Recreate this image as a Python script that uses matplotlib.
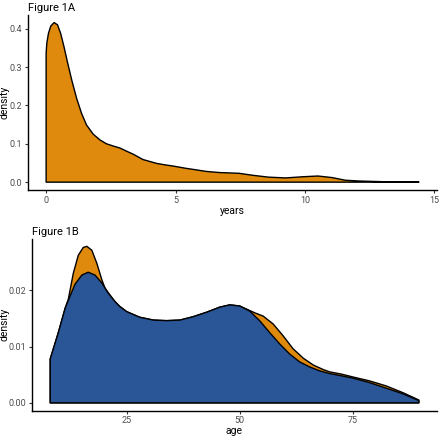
import matplotlib
matplotlib.use("Agg")
import matplotlib.pyplot as plt

plt.rcParams['font.family'] = ['Roboto', 'DejaVu Sans']

# Figure 1A: density of years
years_x = [0.0, 0.026, 0.09, 0.18, 0.31, 0.44, 0.56, 0.69, 0.82, 0.99, 1.18, 1.37, 1.56, 1.82, 2.08,
           2.33, 2.6, 2.85, 3.1, 3.36, 3.55, 3.74, 4.0, 4.26, 4.6, 4.9, 5.41, 5.8, 6.18, 6.7, 7.1,
           7.46, 7.97, 8.6, 9.26, 9.9, 10.5, 11.04, 11.56, 12.08, 13.1, 14.4]
years_d = [0.336, 0.362, 0.388, 0.407, 0.416, 0.410, 0.388, 0.353, 0.314, 0.266, 0.218, 0.179, 0.149,
           0.125, 0.110, 0.100, 0.094, 0.089, 0.081, 0.073, 0.066, 0.059, 0.054, 0.049, 0.045, 0.042,
           0.036, 0.032, 0.028, 0.025, 0.024, 0.023, 0.018, 0.013, 0.011, 0.014, 0.016, 0.012, 0.005,
           0.003, 0.001, 0.001]
years_xticks = [0, 5, 10, 15]
years_yticks = [0.0, 0.1, 0.2, 0.3, 0.4]
years_ylabels = ['0.0', '0.1', '0.2', '0.3', '0.4']

# Figure 1B: density of age, two groups
age_blue_x = [8.1, 9.9, 11.4, 12.5, 13.6, 15.1, 16.5, 18.0, 19.5, 20.9, 22.4, 23.5, 25.0, 27.9, 30.9,
              33.8, 36.8, 39.7, 42.7, 45.6, 47.8, 50.0, 52.2, 54.4, 56.6, 58.8, 61.0, 63.2, 65.4,
              67.6, 69.9, 72.5, 75.0, 78.7, 82.4, 86.1, 89.6]
age_blue_d = [0.0078, 0.0125, 0.0168, 0.0190, 0.0211, 0.0227, 0.0232, 0.0227, 0.0213, 0.0195, 0.0180,
              0.0171, 0.0162, 0.0152, 0.0147, 0.0146, 0.0147, 0.0153, 0.0161, 0.0170, 0.0174, 0.0172,
              0.0163, 0.0146, 0.0125, 0.0105, 0.0087, 0.0073, 0.0064, 0.0057, 0.0052, 0.0048, 0.0044,
              0.0036, 0.0026, 0.0016, 0.0004]
age_orange_x = [8.1, 9.9, 11.4, 12.1, 13.2, 14.3, 15.4, 16.2, 17.3, 18.4, 19.5, 20.2, 20.9, 22.4, 23.5,
                25.0, 27.9, 30.9, 33.8, 36.8, 39.7, 42.7, 45.6, 47.8, 50.0, 52.2, 53.3, 55.2, 57.4,
                59.6, 61.8, 64.1, 66.3, 68.5, 69.9, 72.5, 75.0, 78.7, 82.4, 86.1, 89.6]
age_orange_d = [0.0078, 0.0125, 0.0168, 0.0184, 0.0230, 0.0262, 0.0276, 0.0278, 0.0271, 0.0248, 0.0219,
                0.0204, 0.0196, 0.0180, 0.0171, 0.0162, 0.0152, 0.0147, 0.0146, 0.0147, 0.0153, 0.0161,
                0.0170, 0.0174, 0.0172, 0.0164, 0.0160, 0.0154, 0.0140, 0.0119, 0.0096, 0.0079, 0.0067,
                0.0059, 0.0055, 0.0051, 0.0046, 0.0039, 0.0030, 0.0018, 0.0005]
age_xticks = [25, 50, 75]
age_yticks = [0.00, 0.01, 0.02]
age_ylabels = ['0.00', '0.01', '0.02']

ORANGE = '#DF8A0D'
BLUE = '#2A5698'
TICKC = '#4D4D4D'

fig = plt.figure(figsize=(4.4, 4.38), dpi=100)
ax1 = fig.add_axes([0.0625, 0.566, 0.9305, 0.400])
ax2 = fig.add_axes([0.072, 0.0624, 0.921, 0.3919])


def density_area(ax, xs, ds, color):
    # closed density outline: down to baseline at both ends, like geom_density
    px = [xs[0]] + list(xs) + [xs[-1]]
    py = [0.0] + list(ds) + [0.0]
    ax.fill(px, py, facecolor=color, edgecolor='black', linewidth=1.0, joinstyle='round')


def style(ax):
    for s in ['top', 'right']:
        ax.spines[s].set_visible(False)
    for s in ['left', 'bottom']:
        ax.spines[s].set_linewidth(1.0)
        ax.spines[s].set_color('black')
    ax.tick_params(axis='both', length=2.5, width=0.8, color='#333333', labelcolor=TICKC,
                   labelsize=6.5, pad=1.5)


density_area(ax1, years_x, years_d, ORANGE)
ax1.set_xlim(-0.72, 15.1)
ax1.set_ylim(-0.0207, 0.436)
ax1.set_xticks(years_xticks)
ax1.set_yticks(years_yticks)
ax1.set_xticklabels([str(v) for v in years_xticks])
ax1.set_yticklabels(years_ylabels)
style(ax1)
ax1.set_xlabel('years', fontsize=7.5, labelpad=1)
ax1.set_ylabel('density', fontsize=7.5)
ax1.yaxis.set_label_coords(-0.043, 0.5)
ax1.set_title('Figure 1A', fontsize=8, loc='left', pad=3)

density_area(ax2, age_orange_x, age_orange_d, ORANGE)
density_area(ax2, age_blue_x, age_blue_d, BLUE)
ax2.set_xlim(4.0, 93.6)
ax2.set_ylim(-0.00139, 0.0291)
ax2.set_xticks(age_xticks)
ax2.set_yticks(age_yticks)
ax2.set_xticklabels([str(v) for v in age_xticks])
ax2.set_yticklabels(age_ylabels)
style(ax2)
ax2.set_xlabel('age', fontsize=7.5, labelpad=0.5)
ax2.set_ylabel('density', fontsize=7.5)
ax2.yaxis.set_label_coords(-0.054, 0.5)
ax2.set_title('Figure 1B', fontsize=8, loc='left', pad=3)

fig.savefig('out.png', dpi=100)
